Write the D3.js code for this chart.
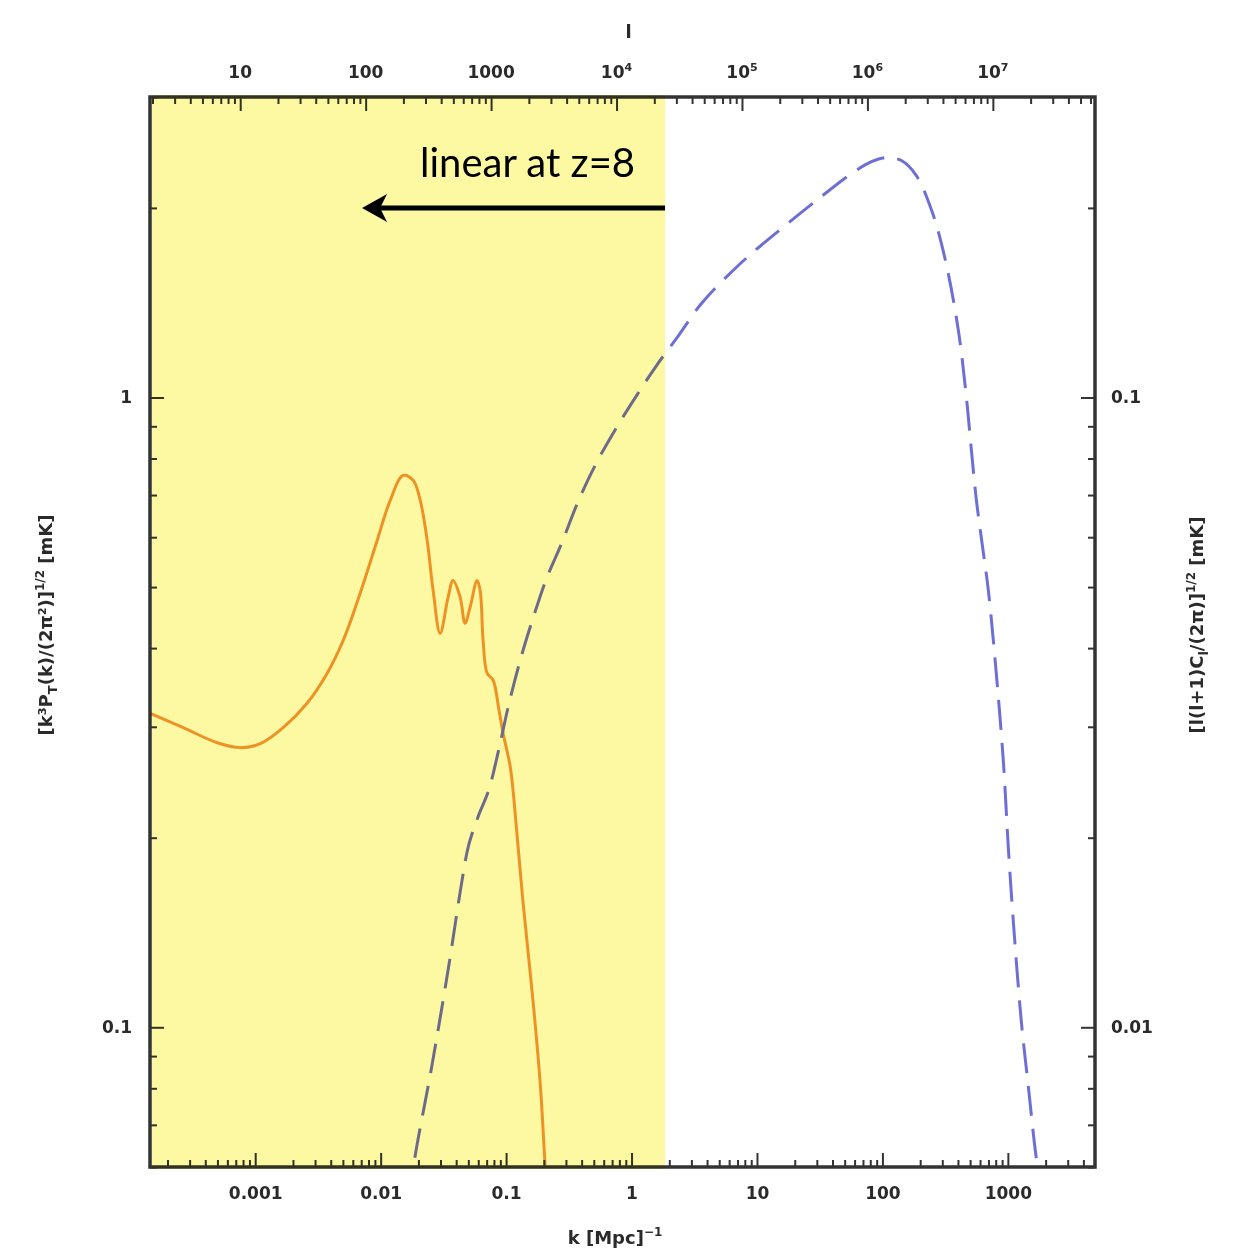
<!DOCTYPE html>
<html>
<head>
<meta charset="utf-8">
<script src="https://cdn.jsdelivr.net/npm/d3@7"></script>
<style>
body { margin: 0; background: #fff; }
.tick text { font-family: "DejaVu Sans", sans-serif; font-weight: bold; font-size: 17px; fill: #2a2a2a; }
.tick line { stroke: #333; stroke-width: 2; }
.title { font-family: "DejaVu Sans", sans-serif; font-weight: bold; font-size: 18px; fill: #2a2a2a; }
</style>
</head>
<body>
<svg id="chart" width="1245" height="1257"></svg>
<script>
// solid curve: k [1/Mpc] against left axis [mK]
var tempK = [1.46e-4, 2.67e-4, 4.98e-4, 7.59e-4, 1.10e-3, 1.67e-3, 2.59e-3, 3.75e-3, 5.02e-3, 6.87e-3,
	9.38e-3, 0.0119, 0.0151, 0.0182, 0.0207, 0.0235, 0.0262, 0.0298, 0.0345, 0.0378,
	0.0430, 0.0471, 0.0516, 0.0587, 0.0621, 0.0656, 0.0706, 0.0787, 0.0880, 0.0946,
	0.108, 0.122, 0.136, 0.164, 0.187, 0.205, 0.225];
var tempVal = [0.315, 0.299, 0.283, 0.278, 0.282, 0.299, 0.327, 0.365, 0.411, 0.489,
	0.593, 0.686, 0.752, 0.738, 0.686, 0.593, 0.494, 0.422, 0.482, 0.512,
	0.482, 0.438, 0.464, 0.512, 0.494, 0.411, 0.365, 0.356, 0.318, 0.293,
	0.259, 0.203, 0.159, 0.110, 0.0815, 0.0600, 0.0443];

// dashed curve: multipole l against right axis [mK]
var clL = [224, 245, 336, 458, 582, 662, 795, 955, 1148, 1378,
	1750, 2222, 2770, 3646, 4977, 6927, 10000, 14440, 20830, 31190,
	47540, 99080, 206400, 429700, 746000, 1.077e6, 1.416e6, 1.866e6, 2.455e6, 3.296e6,
	4.188e6, 5.309e6, 6.152e6, 6.745e6, 7.396e6, 8.247e6, 9.204e6, 1.067e7, 1.213e7, 1.330e7,
	1.483e7, 1.687e7, 1.919e7, 2.143e7, 2.265e7, 2.432e7];
var clVal = [0.00531, 0.00615, 0.00865, 0.01245, 0.01694, 0.01945, 0.02170, 0.02377, 0.02753, 0.03244,
	0.03895, 0.04541, 0.05161, 0.05864, 0.0686, 0.0788, 0.0896, 0.1007, 0.1124, 0.1254,
	0.1410, 0.1638, 0.1854, 0.2085, 0.2267, 0.2368, 0.2404, 0.2378, 0.2251, 0.1966,
	0.1650, 0.1278, 0.1000, 0.0824, 0.0686, 0.0582, 0.0494, 0.0363, 0.0264, 0.0192,
	0.0140, 0.0102, 0.00804, 0.00655, 0.00600, 0.00531];

var kTicks = [0.001, 0.01, 0.1, 1, 10, 100, 1000];
var kLabels = ["0.001", "0.01", "0.1", "1", "10", "100", "1000"];
var lTicks = [10, 100, 1000, 1e4, 1e5, 1e6, 1e7];
var lLabels = [["10", ""], ["100", ""], ["1000", ""], ["10", "4"], ["10", "5"], ["10", "6"], ["10", "7"]];
var leftTicks = [0.1, 1];
var leftLabels = ["0.1", "1"];
var rightTicks = [0.01, 0.1];
var rightLabels = ["0.01", "0.1"];

var kLinear = 1.85;      // edge of the linear regime at z=8
var lPerK = 13170;       // l = k * distance
var annotation = "linear at z=8";

var svg = d3.select("#chart");
var pLeft = 150, pRight = 1095, pTop = 97, pBottom = 1167;

var x = d3.scaleLog().domain([1.45e-4, 4.95e3]).range([pLeft, pRight]);
var xTop = d3.scaleLog().domain([1.45e-4 * lPerK, 4.95e3 * lPerK]).range([pLeft, pRight]);
var y = d3.scaleLog().domain([0.06, 3.0]).range([pBottom, pTop]);
var yRight = d3.scaleLog().domain([0.006, 0.3]).range([pBottom, pTop]);

function minors(scale)
{
	var d = scale.domain(), out = [];
	for (var e = Math.floor(Math.log10(d[0])); e <= Math.ceil(Math.log10(d[1])); e++)
	{
		for (var m = 2; m <= 9; m++)
		{
			var v = m * Math.pow(10, e);
			if (v >= d[0] && v <= d[1]) out.push(v);
		}
	}
	return out;
}

svg.append("clipPath").attr("id", "plotclip")
	.append("rect").attr("x", pLeft).attr("y", pTop).attr("width", pRight - pLeft).attr("height", pBottom - pTop);

var plot = svg.append("g").attr("clip-path", "url(#plotclip)");

var tempLine = d3.line()
	.x(function(d) { return x(d[0]); })
	.y(function(d) { return y(d[1]); })
	.curve(d3.curveCatmullRom.alpha(0.5));

plot.append("path")
	.datum(d3.zip(tempK, tempVal))
	.attr("d", tempLine)
	.attr("fill", "none")
	.attr("stroke", "#f0963c")
	.attr("stroke-width", 3);

var clLine = d3.line()
	.x(function(d) { return xTop(d[0]); })
	.y(function(d) { return yRight(d[1]); })
	.curve(d3.curveCatmullRom.alpha(0.5));

plot.append("path")
	.datum(d3.zip(clL, clVal))
	.attr("d", clLine)
	.attr("fill", "none")
	.attr("stroke", "#6e6ed7")
	.attr("stroke-width", 3)
	.attr("stroke-dasharray", "30 13");

// axes: ticks pointing inwards, minor ticks in their own groups
var bottomT = "translate(0," + pBottom + ")";
svg.append("g").attr("transform", bottomT)
	.call(d3.axisBottom(x).tickValues(minors(x)).tickSize(-7).tickFormat(""));
svg.append("g").attr("transform", bottomT)
	.call(d3.axisBottom(x).tickValues(kTicks).tickSizeInner(-14).tickSizeOuter(0).tickPadding(20)
	.tickFormat(function(d, i) { return kLabels[i]; }));

var topT = "translate(0," + pTop + ")";
svg.append("g").attr("transform", topT)
	.call(d3.axisTop(xTop).tickValues(minors(xTop)).tickSize(-7).tickFormat(""));
svg.append("g").attr("transform", topT)
	.call(d3.axisTop(xTop).tickValues(lTicks).tickSizeInner(-14).tickSizeOuter(0).tickFormat(""));

var leftT = "translate(" + pLeft + ",0)";
svg.append("g").attr("transform", leftT)
	.call(d3.axisLeft(y).tickValues(minors(y)).tickSize(-7).tickFormat(""));
svg.append("g").attr("transform", leftT)
	.call(d3.axisLeft(y).tickValues(leftTicks).tickSizeInner(-14).tickSizeOuter(0).tickPadding(18)
	.tickFormat(function(d, i) { return leftLabels[i]; }));

var rightT = "translate(" + pRight + ",0)";
svg.append("g").attr("transform", rightT)
	.call(d3.axisRight(yRight).tickValues(minors(yRight)).tickSize(-7).tickFormat(""));
svg.append("g").attr("transform", rightT)
	.call(d3.axisRight(yRight).tickValues(rightTicks).tickSizeInner(-14).tickSizeOuter(0).tickPadding(16)
	.tickFormat(function(d, i) { return rightLabels[i]; }));

svg.selectAll(".domain").remove();

// top labels with exponents
var topText = svg.append("g").selectAll("text")
	.data(lTicks)
	.enter().append("text")
	.attr("class", "title")
	.attr("x", function(d) { return xTop(d); })
	.attr("y", 78)
	.attr("text-anchor", "middle")
	.style("font-size", "17px");
topText.append("tspan").text(function(d, i) { return lLabels[i][0]; });
topText.append("tspan").attr("dy", -7).style("font-size", "11px").text(function(d, i) { return lLabels[i][1]; });

svg.append("rect")
	.attr("x", pLeft).attr("y", pTop)
	.attr("width", pRight - pLeft).attr("height", pBottom - pTop)
	.attr("fill", "none").attr("stroke", "#333").attr("stroke-width", 3.5);

// axis titles
svg.append("text").attr("class", "title")
	.attr("x", xTop(1e4) + 12).attr("y", 38).attr("text-anchor", "middle").text("l");

var bt = svg.append("text").attr("class", "title")
	.attr("x", 615).attr("y", 1244).attr("text-anchor", "middle");
bt.append("tspan").text("k  [Mpc]");
bt.append("tspan").attr("dy", -8).style("font-size", "12px").text("−1");

var lt = svg.append("text").attr("class", "title")
	.attr("transform", "translate(52,625) rotate(-90)").attr("text-anchor", "middle");
lt.append("tspan").text("[k³P");
lt.append("tspan").attr("dy", 5).style("font-size", "13px").text("T");
lt.append("tspan").attr("dy", -5).text("(k)/(2π²)]");
lt.append("tspan").attr("dy", -8).style("font-size", "12px").text("1/2");
lt.append("tspan").attr("dy", 8).text("  [mK]");

var rt = svg.append("text").attr("class", "title")
	.attr("transform", "translate(1203,625) rotate(-90)").attr("text-anchor", "middle");
rt.append("tspan").text("[l(l+1)C");
rt.append("tspan").attr("dy", 5).style("font-size", "13px").text("l");
rt.append("tspan").attr("dy", -5).text("/(2π)]");
rt.append("tspan").attr("dy", -8).style("font-size", "12px").text("1/2");
rt.append("tspan").attr("dy", 8).text(" [mK]");

// linear regime shading
var xLin = x(kLinear);
svg.append("rect")
	.attr("x", pLeft + 2).attr("y", pTop - 2)
	.attr("width", xLin - pLeft - 2).attr("height", pBottom - pTop + 4)
	.attr("fill", "#fdf9a2")
	.style("mix-blend-mode", "multiply");

svg.append("text")
	.attr("x", xLin - 30).attr("y", 177)
	.attr("text-anchor", "end")
	.style("font-family", "Lato, sans-serif")
	.style("font-size", "40px")
	.style("fill", "#000")
	.text(annotation);

svg.append("line")
	.attr("x1", xLin).attr("y1", 208).attr("x2", xLin - 285).attr("y2", 208)
	.attr("stroke", "#000").attr("stroke-width", 5);

svg.append("path")
	.attr("d", "M" + (xLin - 303) + ",208 L" + (xLin - 278) + ",194 L" + (xLin - 285) + ",208 L" + (xLin - 278) + ",222 Z")
	.attr("fill", "#000");
</script>
</body>
</html>
